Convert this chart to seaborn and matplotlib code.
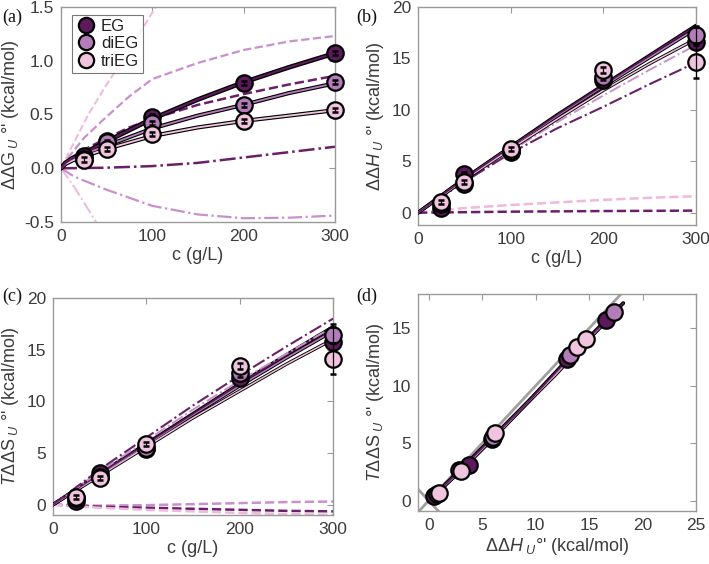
import matplotlib
matplotlib.use('Agg')
import matplotlib.pyplot as plt
import seaborn as sns
import pandas as pd

# ── data ──
C_PTS = [25, 50, 100, 200, 300]

DG_EG = [0.11, 0.25, 0.48, 0.79, 1.07]
DG_DI = [0.09, 0.24, 0.42, 0.59, 0.80]
DG_TRI = [0.08, 0.18, 0.32, 0.44, 0.54]
DG_ERR = [0.02, 0.02, 0.02, 0.02, 0.02]

DH_EG = [0.5, 3.8, 5.9, 12.9, 16.6]
DH_DI = [0.8, 2.8, 6.0, 13.2, 17.3]
DH_TRI = [1.0, 3.0, 6.2, 13.9, 14.7]
DH_ERR_EG = [0.2, 0.2, 0.2, 0.3, 1.6]
DH_ERR_DI = [0.2, 0.2, 0.2, 0.3, 0.8]
DH_ERR_TRI = [0.2, 0.2, 0.2, 0.3, 1.6]

TS_EG = [0.4, 3.1, 5.4, 12.3, 15.7]
TS_DI = [0.6, 2.7, 5.5, 12.7, 16.4]
TS_TRI = [0.7, 2.6, 5.9, 13.4, 14.1]
TS_ERR_EG = [0.2, 0.2, 0.2, 0.3, 1.8]
TS_ERR_DI = [0.2, 0.2, 0.2, 0.3, 0.8]
TS_ERR_TRI = [0.2, 0.2, 0.2, 0.3, 1.5]

# panel (a) curves
C_A_FIT = [0, 5, 12, 25, 50, 100, 150, 200, 250, 300]
DG_FIT_EG = [0, 0.05, 0.09, 0.14, 0.25, 0.46, 0.64, 0.80, 0.94, 1.07]
DG_FIT_DI = [0, 0.05, 0.09, 0.13, 0.21, 0.37, 0.49, 0.59, 0.70, 0.79]
DG_FIT_TRI = [0, 0.04, 0.07, 0.11, 0.18, 0.30, 0.38, 0.44, 0.49, 0.54]

C_A_DASH = [0, 10, 25, 50, 75, 100, 150, 200, 250, 300]
DG_DASH_DI = [0, 0.12, 0.28, 0.48, 0.67, 0.83, 0.98, 1.10, 1.18, 1.23]
DG_DASH_EG = [0, 0.09, 0.17, 0.28, 0.38, 0.46, 0.59, 0.69, 0.78, 0.86]
C_A_DASH_TRI = [0, 10, 30, 50, 75, 100, 115]
DG_DASH_TRI = [0, 0.17, 0.50, 0.78, 1.10, 1.45, 1.65]

C_A_DD_TRI = [0, 15, 37, 45]
DG_DD_TRI = [0, -0.18, -0.48, -0.60]
C_A_DD = [0, 15, 50, 100, 150, 200, 250, 300]
DG_DD_EG = [0, 0.001, 0.005, 0.02, 0.05, 0.10, 0.15, 0.20]
DG_DD_DI = [0, -0.08, -0.20, -0.35, -0.43, -0.465, -0.46, -0.44]

# panels (b), (c) curves
C_FIT = [0, 50, 100, 150, 200, 250, 300]
DH_FIT_EG = [0, 3.3, 6.4, 9.5, 12.4, 15.3, 18.2]
DH_FIT_DI = [0, 3.3, 6.4, 9.4, 12.3, 15.1, 17.9]
DH_FIT_TRI = [0, 3.2, 6.2, 9.1, 11.9, 14.5, 16.9]
DH_DD_EG = [0, 3.0, 5.8, 8.2, 10.3, 12.5, 14.6]
DH_DD_TRI = [0, 3.1, 6.0, 8.8, 11.4, 13.9, 16.3]
DH_DASH_EG = [0, 0.05, 0.10, 0.13, 0.16, 0.18, 0.20]
DH_DASH_TRI = [0, 0.45, 0.75, 1.0, 1.25, 1.45, 1.6]

TS_FIT_EG = [0, 3.0, 5.9, 8.8, 11.7, 14.5, 17.2]
TS_FIT_DI = [0, 2.9, 5.8, 8.7, 11.5, 14.2, 16.8]
TS_FIT_TRI = [0, 2.8, 5.6, 8.4, 11.0, 13.6, 16.0]
TS_DD_EG = [0, 3.4, 6.5, 9.6, 12.5, 15.3, 18.0]
TS_DD_DI = [0, 3.2, 6.2, 9.2, 12.0, 14.6, 17.2]
TS_DASH_EG = [0, -0.2, -0.3, -0.4, -0.5, -0.6, -0.65]
TS_DASH_DI = [0, -0.1, -0.05, 0.05, 0.15, 0.25, 0.3]
TS_DASH_TRI = [0, -0.3, -0.5, -0.65, -0.8, -0.9, -1.0]

DIAG = [-1, 25]

SERIES = ['EG', 'diEG', 'triEG']
COLORS = {'EG': '#5c1a5c', 'diEG': '#b47cb8', 'triEG': '#f0c4de'}
DASH_COLORS = {'EG': '#6a2068', 'diEG': '#c890cc', 'triEG': '#efb8dc'}

sns.set_theme(style='white')
plt.rcParams['font.family'] = ['Liberation Sans', 'DejaVu Sans']
plt.rcParams['mathtext.fontset'] = 'custom'
plt.rcParams['mathtext.rm'] = 'Liberation Sans'
plt.rcParams['mathtext.it'] = 'Liberation Sans:italic'

TXT = '#3c3c3c'
SPINE = '#9a9a9a'


def style_axes(ax):
    for s in ax.spines.values():
        s.set_color(SPINE)
        s.set_linewidth(1.0)
    ax.tick_params(direction='in', top=True, right=True, length=4, width=0.8,
                   color=SPINE, labelcolor=TXT, labelsize=12.5, pad=5)


def fit_line(ax, x, y, name, lw=3.0):
    ax.plot(x, y, color='black', lw=lw, solid_capstyle='round', zorder=3)
    ax.plot(x, y, color=COLORS[name], lw=lw * 0.45, zorder=3.1)


def points(ax, x, y, err, name, zo):
    df = pd.DataFrame({'x': x, 'y': y})
    sns.scatterplot(data=df, x='x', y='y', ax=ax, s=140, color=COLORS[name],
                    edgecolor='black', linewidth=1.6, zorder=zo, legend=False,
                    clip_on=False)
    if err is not None:
        eb = ax.errorbar(x, y, yerr=err, fmt='none', ecolor='black', elinewidth=0.9,
                         capsize=2.2, capthick=1.8, zorder=zo + 0.5)
        for art in eb.lines[1] + eb.lines[2]:
            art.set_clip_on(False)


fig = plt.figure(figsize=(7.09, 5.64), dpi=100)
ax_a = fig.add_axes([0.086, 0.6064, 0.3865, 0.3812])
ax_b = fig.add_axes([0.5896, 0.601, 0.392, 0.3865])
ax_c = fig.add_axes([0.0748, 0.0869, 0.395, 0.3848])
ax_d = fig.add_axes([0.5896, 0.094, 0.392, 0.3848])

# ── (a) ΔΔG ──
ax = ax_a
ax.plot(C_A_DASH_TRI, DG_DASH_TRI, '--', color=DASH_COLORS['triEG'], lw=1.4, zorder=1)
ax.plot(C_A_DD_TRI, DG_DD_TRI, '-.', color=DASH_COLORS['triEG'], lw=1.4, zorder=1)
ax.plot(C_A_DASH, DG_DASH_DI, '--', color=DASH_COLORS['diEG'], lw=1.6, zorder=1)
ax.plot(C_A_DD, DG_DD_DI, '-.', color=DASH_COLORS['diEG'], lw=1.6, zorder=1)
ax.plot(C_A_DASH, DG_DASH_EG, '--', color=DASH_COLORS['EG'], lw=1.8, zorder=1)
ax.plot(C_A_DD, DG_DD_EG, '-.', color=DASH_COLORS['EG'], lw=1.8, zorder=1)
fit_line(ax, C_A_FIT, DG_FIT_TRI, 'triEG')
fit_line(ax, C_A_FIT, DG_FIT_DI, 'diEG')
fit_line(ax, C_A_FIT, DG_FIT_EG, 'EG', lw=3.4)
points(ax, C_PTS, DG_EG, DG_ERR, 'EG', 5)
points(ax, C_PTS, DG_DI, DG_ERR, 'diEG', 6)
points(ax, C_PTS, DG_TRI, DG_ERR, 'triEG', 7)
ax.set_xlim(0, 300)
ax.set_ylim(-0.5, 1.5)
ax.set_xticks([0, 100, 200, 300])
ax.set_yticks([-0.5, 0.0, 0.5, 1.0, 1.5])
ax.set_yticklabels(['-0.5', '0.0', '0.5', '1.0', '1.5'])
ax.set_xlabel('c (g/L)', color=TXT, fontsize=13, labelpad=2)
ax.set_ylabel("ΔΔG$_{\\ U}$ °' (kcal/mol)", color=TXT, fontsize=13, labelpad=2)
style_axes(ax)
handles = [plt.Line2D([], [], ls='none', marker='o', markersize=11,
                      markerfacecolor=COLORS[n], markeredgecolor='black',
                      markeredgewidth=1.6) for n in SERIES]
leg = ax.legend(handles, SERIES, loc='upper left', bbox_to_anchor=(0.04, 0.965),
                fontsize=12, frameon=True, fancybox=False, handletextpad=0.3,
                borderpad=0.25, labelspacing=0.15, handlelength=1.2,
                borderaxespad=0)
leg.get_frame().set_edgecolor('#555555')
leg.get_frame().set_linewidth(0.8)
leg.set_zorder(10)
for t in leg.get_texts():
    t.set_color('#222222')

# ── (b) ΔΔH ──
ax = ax_b
ax.plot(C_FIT, DH_DASH_TRI, '--', color=DASH_COLORS['triEG'], lw=1.8, zorder=1)
ax.plot(C_FIT, DH_DASH_EG, '--', color=DASH_COLORS['EG'], lw=1.8, zorder=1)
ax.plot(C_FIT, DH_DD_TRI, '-.', color=DASH_COLORS['diEG'], lw=1.4, zorder=1)
ax.plot(C_FIT, DH_DD_EG, '-.', color=DASH_COLORS['EG'], lw=1.5, zorder=1)
fit_line(ax, C_FIT, DH_FIT_TRI, 'triEG', lw=2.4)
fit_line(ax, C_FIT, DH_FIT_DI, 'diEG', lw=2.6)
fit_line(ax, C_FIT, DH_FIT_EG, 'EG', lw=2.6)
points(ax, C_PTS, DH_EG, DH_ERR_EG, 'EG', 5)
points(ax, C_PTS, DH_DI, DH_ERR_DI, 'diEG', 6)
points(ax, C_PTS, DH_TRI, DH_ERR_TRI, 'triEG', 7)
ax.set_xlim(0, 300)
ax.set_ylim(-1.2, 20)
ax.set_xticks([0, 100, 200, 300])
ax.set_yticks([0, 5, 10, 15, 20])
ax.set_xlabel('c (g/L)', color=TXT, fontsize=13, labelpad=2)
ax.set_ylabel("ΔΔ$H$$_{\\ U}$ °' (kcal/mol)", color=TXT, fontsize=13, labelpad=4)
style_axes(ax)

# ── (c) TΔΔS ──
ax = ax_c
ax.plot(C_FIT, TS_DASH_DI, '--', color=DASH_COLORS['diEG'], lw=1.8, zorder=1)
ax.plot(C_FIT, TS_DASH_EG, '--', color=DASH_COLORS['EG'], lw=1.8, zorder=1)
ax.plot(C_FIT, TS_DASH_TRI, '--', color=DASH_COLORS['triEG'], lw=1.8, zorder=1)
fit_line(ax, C_FIT, TS_FIT_TRI, 'triEG', lw=2.4)
fit_line(ax, C_FIT, TS_FIT_DI, 'diEG', lw=2.6)
fit_line(ax, C_FIT, TS_FIT_EG, 'EG', lw=2.6)
ax.plot(C_FIT, TS_DD_DI, '-.', color=DASH_COLORS['diEG'], lw=1.4, zorder=3.5)
ax.plot(C_FIT, TS_DD_EG, '-.', color=DASH_COLORS['EG'], lw=1.5, zorder=3.5)
points(ax, C_PTS, TS_EG, TS_ERR_EG, 'EG', 5)
points(ax, C_PTS, TS_DI, TS_ERR_DI, 'diEG', 6)
points(ax, C_PTS, TS_TRI, TS_ERR_TRI, 'triEG', 7)
ax.set_xlim(0, 300)
ax.set_ylim(-1, 20)
ax.set_xticks([0, 100, 200, 300])
ax.set_yticks([0, 5, 10, 15, 20])
ax.set_xlabel('c (g/L)', color=TXT, fontsize=13, labelpad=2)
ax.set_ylabel("$T$ΔΔS$_{\\ U}$ °' (kcal/mol)", color=TXT, fontsize=13, labelpad=4)
style_axes(ax)

# ── (d) TΔΔS vs ΔΔH ──
ax = ax_d
ax.plot(DIAG, DIAG, color='#a0a0a0', lw=2.0, zorder=1)
ax.plot(DIAG, [-v for v in DIAG], color='#a0a0a0', lw=2.0, zorder=1)
fit_line(ax, DH_FIT_TRI, TS_FIT_TRI, 'triEG', lw=2.6)
fit_line(ax, DH_FIT_DI, TS_FIT_DI, 'diEG', lw=2.6)
fit_line(ax, DH_FIT_EG, TS_FIT_EG, 'EG', lw=2.8)
points(ax, DH_EG, TS_EG, None, 'EG', 5)
points(ax, DH_DI, TS_DI, None, 'diEG', 6)
points(ax, DH_TRI, TS_TRI, None, 'triEG', 7)
ax.set_xlim(-1, 25)
ax.set_ylim(-0.9, 18)
ax.set_xticks([0, 5, 10, 15, 20, 25])
ax.set_yticks([0, 5, 10, 15])
ax.set_xlabel("ΔΔ$H$$_{\\ U}$°' (kcal/mol)", color=TXT, fontsize=13, labelpad=2)
ax.set_ylabel("$T$ΔΔS$_{\\ U}$ °' (kcal/mol)", color=TXT, fontsize=13, labelpad=4)
style_axes(ax)

for lbl, (x, y) in zip(['(a)', '(b)', '(c)', '(d)'],
                       [(0.003, 0.985), (0.503, 0.985), (0.003, 0.49), (0.503, 0.49)]):
    fig.text(x, y, lbl, fontsize=13, family='Liberation Serif', color='#111111',
             va='top', ha='left')

plt.savefig('out.png', dpi=100)
plt.close()
